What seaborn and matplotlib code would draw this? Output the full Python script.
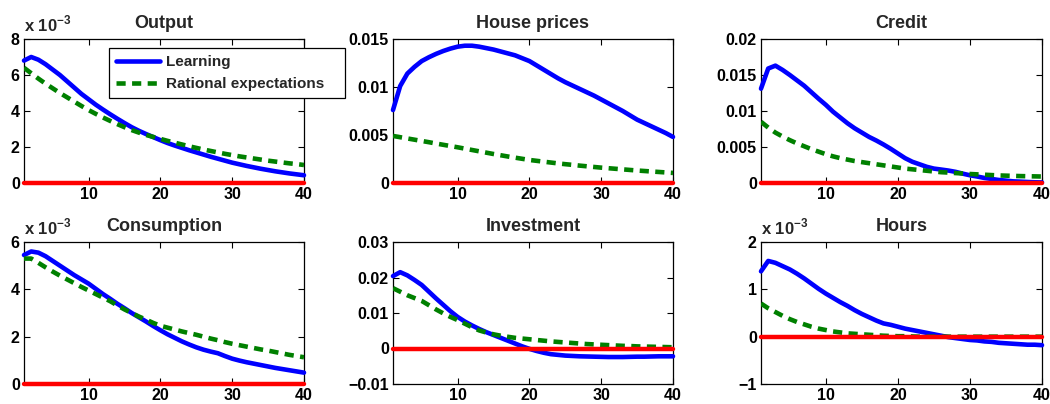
import numpy as np
import pandas as pd
import seaborn as sns
import matplotlib
matplotlib.use("Agg")
import matplotlib.pyplot as plt
from matplotlib.ticker import FuncFormatter

sns.set_style("ticks")
plt.rcParams["font.family"] = ["Liberation Sans", "DejaVu Sans"]
plt.rcParams["font.weight"] = "bold"
plt.rcParams["mathtext.fontset"] = "custom"
plt.rcParams["mathtext.rm"] = "Liberation Sans:bold"
plt.rcParams["mathtext.bf"] = "Liberation Sans:bold"

# impulse responses, all in units of 1e-3
periods = list(range(1, 41))

output_learn = [6.8, 7.0, 6.85, 6.6, 6.3, 6.0, 5.65, 5.3, 4.95, 4.65, 4.35, 4.08, 3.82, 3.57, 3.33, 3.1, 2.9, 2.72, 2.55, 2.38,
                2.22, 2.08, 1.95, 1.82, 1.7, 1.58, 1.46, 1.35, 1.24, 1.13, 1.04, 0.95, 0.87, 0.79, 0.72, 0.65, 0.59, 0.53, 0.48, 0.43]
output_re = [6.4, 6.1, 5.8, 5.52, 5.26, 5.0, 4.76, 4.52, 4.28, 4.05, 3.84, 3.64, 3.45, 3.27, 3.1, 2.94, 2.8, 2.67, 2.56, 2.45,
             2.34, 2.24, 2.14, 2.04, 1.95, 1.86, 1.78, 1.70, 1.62, 1.55, 1.48, 1.42, 1.36, 1.30, 1.24, 1.19, 1.14, 1.09, 1.05, 1.0]

house_learn = [7.6, 10.1, 11.4, 12.1, 12.7, 13.1, 13.45, 13.75, 14.0, 14.2, 14.3, 14.3, 14.2, 14.05, 13.9, 13.7, 13.5, 13.3, 13.0, 12.7,
               12.25, 11.8, 11.35, 10.9, 10.5, 10.15, 9.8, 9.45, 9.1, 8.7, 8.3, 7.9, 7.5, 7.05, 6.6, 6.25, 5.9, 5.55, 5.2, 4.8]
house_re = [4.9, 4.77, 4.64, 4.51, 4.38, 4.25, 4.11, 3.98, 3.85, 3.72, 3.58, 3.44, 3.3, 3.16, 3.02, 2.89, 2.76, 2.64, 2.52, 2.4,
            2.31, 2.22, 2.13, 2.04, 1.96, 1.89, 1.81, 1.74, 1.67, 1.6, 1.54, 1.48, 1.42, 1.36, 1.3, 1.25, 1.2, 1.15, 1.1, 1.05]

credit_learn = [13.1, 15.9, 16.3, 15.7, 15.0, 14.25, 13.5, 12.6, 11.7, 10.85, 9.9, 9.1, 8.3, 7.6, 7.0, 6.4, 5.9, 5.35, 4.75, 4.1,
                3.45, 2.95, 2.6, 2.25, 2.0, 1.87, 1.73, 1.55, 1.3, 1.07, 0.9, 0.7, 0.56, 0.42, 0.33, 0.23, 0.19, 0.14, 0.1, 0.08]
credit_re = [8.5, 7.7, 7.0, 6.45, 5.95, 5.5, 5.1, 4.7, 4.35, 4.0, 3.7, 3.45, 3.25, 3.05, 2.9, 2.75, 2.6, 2.45, 2.3, 2.15,
             2.0, 1.9, 1.8, 1.7, 1.6, 1.5, 1.45, 1.38, 1.32, 1.25, 1.2, 1.15, 1.1, 1.05, 1.02, 0.99, 0.96, 0.94, 0.92, 0.9]

cons_learn = [5.45, 5.6, 5.55, 5.4, 5.2, 5.0, 4.8, 4.6, 4.42, 4.24, 4.02, 3.8, 3.6, 3.39, 3.2, 3.0, 2.82, 2.64, 2.45, 2.27,
              2.1, 1.95, 1.8, 1.67, 1.55, 1.45, 1.37, 1.3, 1.18, 1.07, 0.99, 0.92, 0.86, 0.8, 0.74, 0.68, 0.63, 0.58, 0.53, 0.48]
cons_re = [5.3, 5.3, 5.12, 4.93, 4.75, 4.58, 4.42, 4.26, 4.1, 3.95, 3.8, 3.65, 3.5, 3.32, 3.15, 3.0, 2.85, 2.72, 2.58, 2.46,
           2.38, 2.3, 2.22, 2.15, 2.08, 2.0, 1.92, 1.85, 1.77, 1.7, 1.64, 1.58, 1.52, 1.46, 1.41, 1.35, 1.29, 1.23, 1.18, 1.13]

inv_learn = [20.4, 21.5, 20.6, 19.3, 17.9, 16.0, 14.1, 12.3, 10.5, 8.9, 7.6, 6.5, 5.5, 4.6, 3.8, 3.0, 2.2, 1.4, 0.6, -0.1,
             -0.7, -1.2, -1.6, -1.8, -2.0, -2.1, -2.2, -2.25, -2.3, -2.35, -2.4, -2.4, -2.4, -2.35, -2.3, -2.3, -2.25, -2.2, -2.2, -2.2]
inv_re = [17.0, 16.0, 15.0, 14.2, 13.4, 12.2, 11.0, 9.9, 8.9, 8.0, 7.0, 6.0, 5.1, 4.5, 4.0, 3.6, 3.3, 3.0, 2.8, 2.6,
          2.4, 2.2, 2.0, 1.85, 1.7, 1.55, 1.4, 1.25, 1.15, 1.05, 0.95, 0.85, 0.75, 0.7, 0.6, 0.55, 0.5, 0.45, 0.4, 0.35]

hours_learn = [1.38, 1.6, 1.56, 1.49, 1.42, 1.33, 1.23, 1.12, 1.01, 0.91, 0.82, 0.73, 0.65, 0.56, 0.48, 0.41, 0.34, 0.28, 0.25, 0.21,
               0.17, 0.14, 0.11, 0.08, 0.05, 0.02, -0.01, -0.03, -0.05, -0.07, -0.08, -0.1, -0.11, -0.13, -0.14, -0.15, -0.16, -0.17, -0.17, -0.18]
hours_re = [0.7, 0.6, 0.52, 0.44, 0.37, 0.31, 0.26, 0.21, 0.17, 0.14, 0.11, 0.09, 0.07, 0.06, 0.05, 0.04, 0.03, 0.02, 0.015, 0.01,
            0.01, 0.005, 0.0, 0.0, 0.0, 0.0, 0.0, 0.0, 0.0, 0.0, 0.0, 0.0, 0.0, 0.0, 0.0, 0.0, 0.0, 0.0, 0.0, 0.0]

# title, learning, rational, shown in 1e-3 units?, ylim, yticks
panels = [
    ("Output", output_learn, output_re, True, (0, 8), [0, 2, 4, 6, 8]),
    ("House prices", house_learn, house_re, False, (0, 0.015), [0, 0.005, 0.01, 0.015]),
    ("Credit", credit_learn, credit_re, False, (0, 0.02), [0, 0.005, 0.01, 0.015, 0.02]),
    ("Consumption", cons_learn, cons_re, True, (0, 6), [0, 2, 4, 6]),
    ("Investment", inv_learn, inv_re, False, (-0.01, 0.03), [-0.01, 0, 0.01, 0.02, 0.03]),
    ("Hours", hours_learn, hours_re, True, (-1, 2), [-1, 0, 1, 2]),
]

W, H = 1050, 404
fig = plt.figure(figsize=(10.5, 4.04), dpi=100)
lefts = [24, 393, 761]
widths = [280, 280, 281]
rows = [(39, 183), (242, 384)]

fmt = FuncFormatter(lambda v, p: ("%g" % v).replace("-", "\u2212"))

axes = []
for i, (title, learn, re_, scaled, ylim, yticks) in enumerate(panels):
    r, c = divmod(i, 3)
    top, bot = rows[r]
    ax = fig.add_axes([lefts[c] / W, 1 - bot / H, widths[c] / W, (bot - top) / H])
    k = 1.0 if scaled else 1e-3
    df = pd.DataFrame({"t": periods,
                       "learn": np.array(learn) * k,
                       "re": np.array(re_) * k})
    sns.lineplot(data=df, x="t", y="learn", ax=ax, color="#0000ff", linewidth=3.3,
                 label="Learning", clip_on=False, zorder=3)
    sns.lineplot(data=df, x="t", y="re", ax=ax, color="#008000", linewidth=3.3,
                 linestyle=(0, (2.0, 1.4)), label="Rational expectations", zorder=3)
    ax.axhline(0, color="#ff0000", linewidth=3.2, zorder=4, clip_on=False)
    ax.set_xlim(1, 40)
    ax.set_ylim(*ylim)
    ax.set_xticks([10, 20, 30, 40])
    ax.set_yticks(yticks)
    ax.yaxis.set_major_formatter(fmt)
    ax.set_xlabel("")
    ax.set_ylabel("")
    ax.tick_params(direction="in", top=True, right=True, length=4, width=0.8,
                   labelsize=11.5, pad=3, colors="black")
    for lab in ax.get_xticklabels() + ax.get_yticklabels():
        lab.set_fontweight("bold")
    for s in ax.spines.values():
        s.set_linewidth(0.9)
        s.set_color("black")
    ax.set_title(title, fontsize=13, fontweight="bold", pad=8)
    if scaled:
        ax.text(0.0, 1.035, "x 10$^{\\mathbf{-3}}$", transform=ax.transAxes,
                ha="left", va="bottom", fontsize=12, fontweight="bold")
    ax.get_legend().remove()
    axes.append(ax)

handles, labels = axes[0].get_legend_handles_labels()
leg = axes[0].legend(handles, labels, loc="upper left", mode="expand",
                     bbox_to_anchor=(109 / W, 1 - 97 / H, 236 / W, 49 / H),
                     bbox_transform=fig.transFigure,
                     fancybox=False, framealpha=1, edgecolor="black", fontsize=11,
                     handlelength=2.9, handletextpad=0.4, borderpad=0.45, labelspacing=0.55,
                     borderaxespad=0)
leg.get_frame().set_linewidth(0.9)
leg.set_zorder(10)
for t in leg.get_texts():
    t.set_fontweight("bold")

fig.savefig("out.png", dpi=100, facecolor="white")
